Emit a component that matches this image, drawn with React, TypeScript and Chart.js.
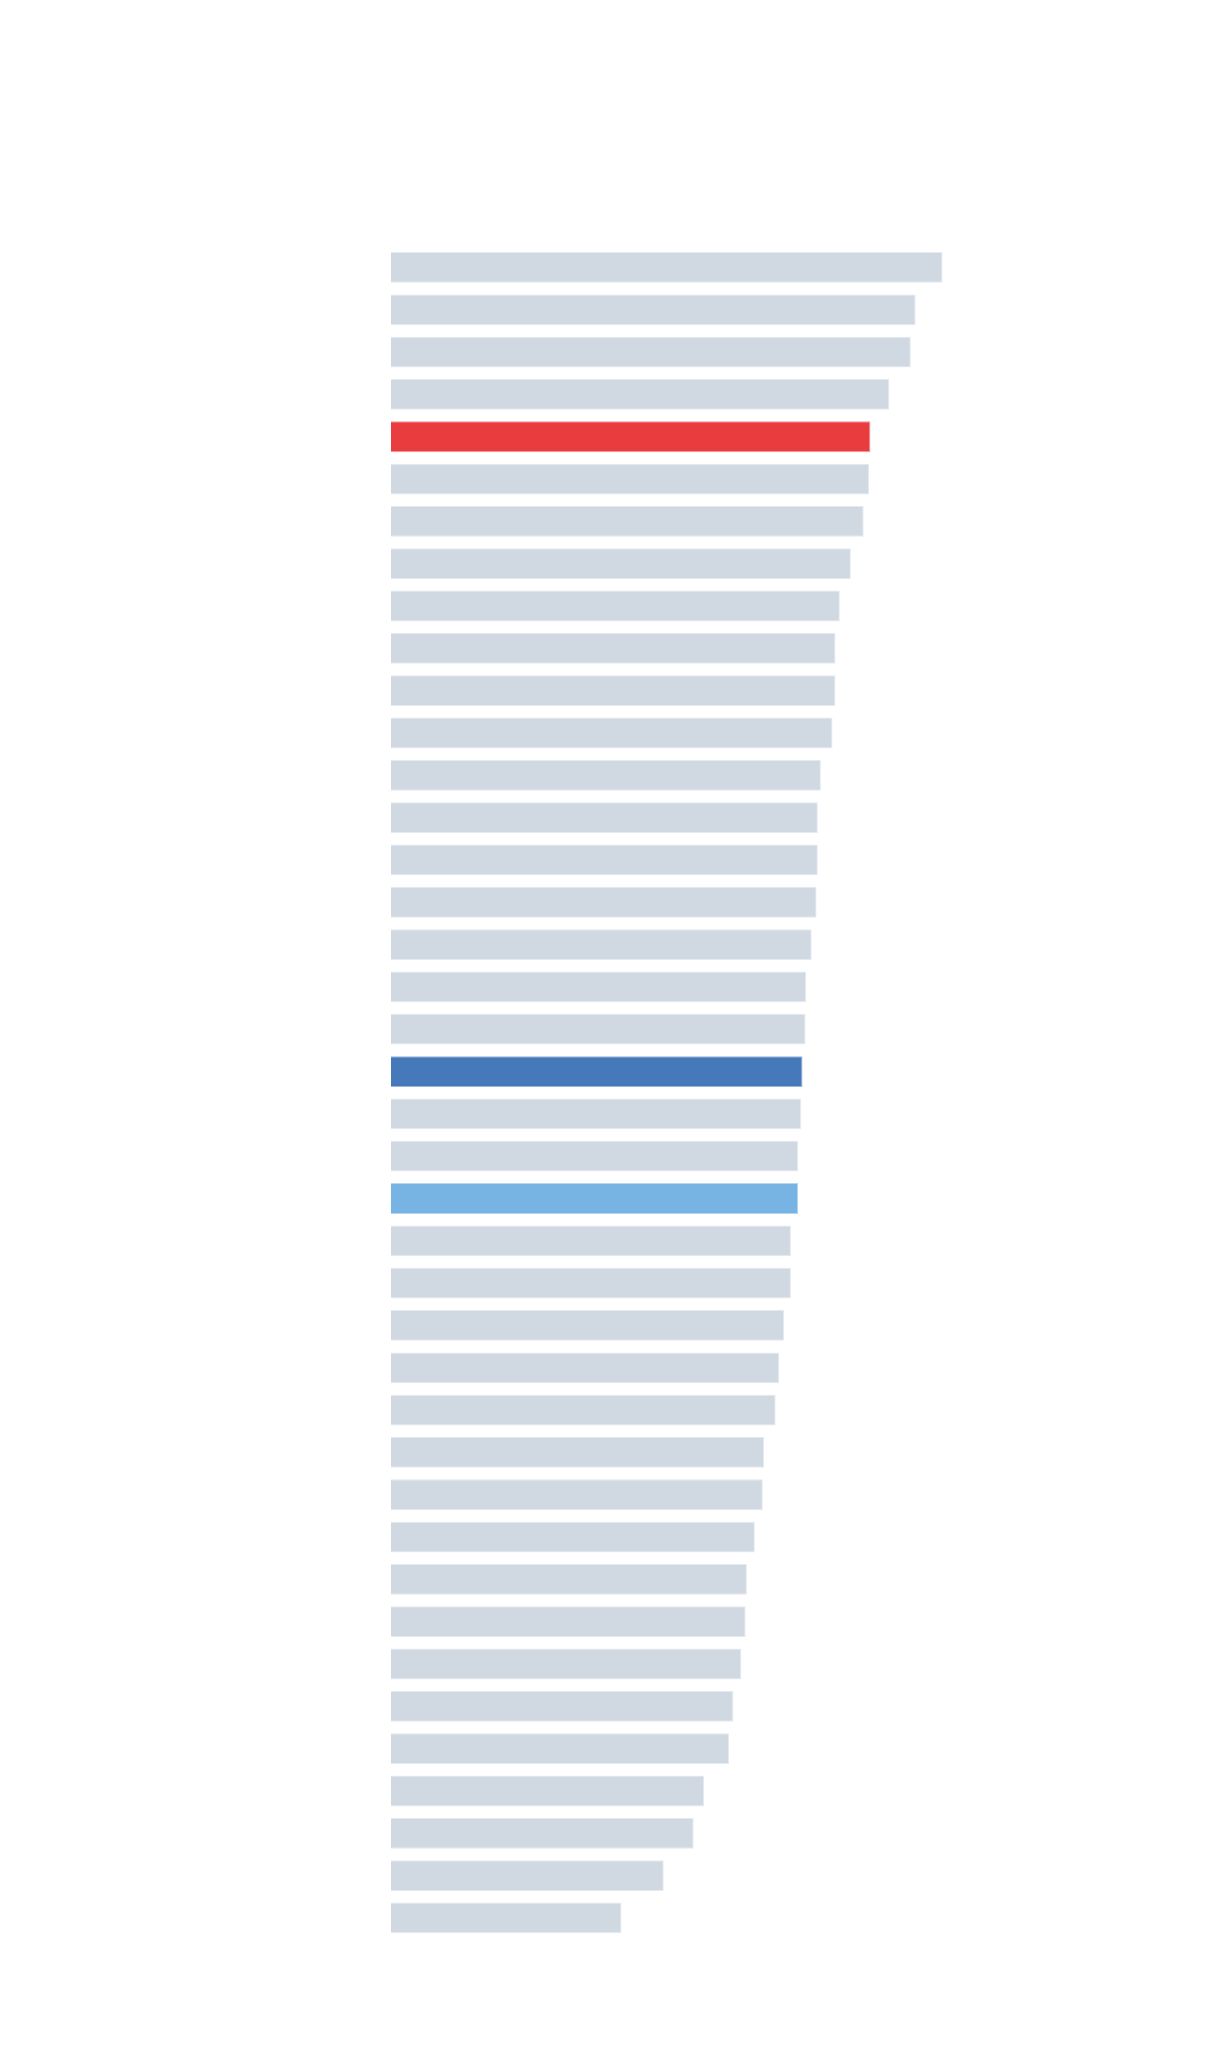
import React, { useEffect, useRef } from "react";
import { Chart, registerables } from "chart.js";

Chart.register(...registerables);

const categories: string[] = Array.from({ length: 40 }, (_, i) => `Item ${i + 1}`);

const values: number[] = [
  90.2, 85.8, 85.0, 81.5, 78.4, 78.2, 77.3, 75.2, 73.4, 72.7,
  72.7, 72.2, 70.3, 69.8, 69.8, 69.6, 68.8, 67.9, 67.8, 67.3,
  67.1, 66.6, 66.6, 65.4, 65.4, 64.3, 63.5, 62.9, 61.0, 60.8,
  59.5, 58.2, 58.0, 57.3, 56.0, 55.3, 51.2, 49.5, 44.6, 37.7,
];

const highlightRed: number[] = [4];
const highlightDark: number[] = [19];
const highlightLight: number[] = [22];

const GREY = "#D0D8E1";
const RED = "#E83C3F";
const DARK = "#4579BA";
const LIGHT = "#78B4E3";

function colorFor(i: number): string {
  if (highlightRed.includes(i)) return RED;
  if (highlightDark.includes(i)) return DARK;
  if (highlightLight.includes(i)) return LIGHT;
  return GREY;
}

function borderFor(i: number): string {
  const c = colorFor(i);
  const r = parseInt(c.slice(1, 3), 16);
  const g = parseInt(c.slice(3, 5), 16);
  const b = parseInt(c.slice(5, 7), 16);
  return `rgba(${r},${g},${b},0.55)`;
}

export default function App() {
  const ref = useRef<HTMLCanvasElement | null>(null);

  useEffect(() => {
    if (!ref.current) return;
    const chart = new Chart(ref.current, {
      type: "bar",
      data: {
        labels: categories,
        datasets: [
          {
            data: values,
            backgroundColor: values.map((_, i) => colorFor(i)),
            borderColor: values.map((_, i) => borderFor(i)),
            borderWidth: 1,
            categoryPercentage: 0.8,
            barPercentage: 0.91,
          },
        ],
      },
      options: {
        indexAxis: "y",
        animation: false,
        responsive: true,
        maintainAspectRatio: false,
        layout: {
          padding: { left: 383, right: 199.5, top: 238.3, bottom: 68.9 },
        },
        plugins: {
          legend: { display: false },
          tooltip: { enabled: false },
          title: { display: false },
        },
        scales: {
          x: { display: false, min: 0, max: 100 },
          y: { display: false },
        },
      },
    });
    return () => chart.destroy();
  }, []);

  return (
    <div style={{ width: 1194, height: 2000, position: "relative" }}>
      <canvas ref={ref} />
    </div>
  );
}
